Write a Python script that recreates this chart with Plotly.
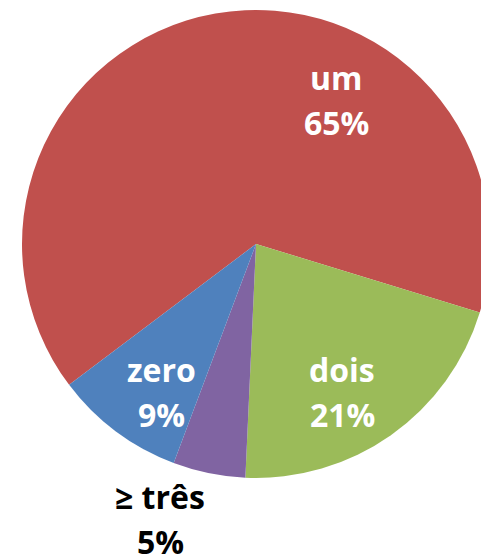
import plotly.graph_objects as go

# Data
labels = ["um", "dois", "≥ três", "zero"]
values = [65, 21, 5, 9]
colors = ["#C0504D", "#9BBB59", "#8064A2", "#4F81BD"]

# Layout (page pixels)
W, H = 490, 555
cx, cy, r = 256, 244, 234

# label block centres (pixels) and text colours
label_pos = [(336, 100), (342, 392), (160, 519), (161, 392)]
label_col = ["white", "white", "black", "white"]
line_gap = 45

fig = go.Figure(go.Pie(
    labels=labels,
    values=values,
    sort=False,
    direction="clockwise",
    rotation=233,
    marker=dict(colors=colors, line=dict(width=0)),
    textinfo="none",
    hoverinfo="label+percent",
    showlegend=False,
    domain=dict(x=[(cx - r) / W, (cx + r) / W],
                y=[(H - (cy + r)) / H, (H - (cy - r)) / H]),
))

total = sum(values)
for lab, val, (px, py), col in zip(labels, values, label_pos, label_col):
    lines = [lab, f"{round(100 * val / total)}%"]
    for i, txt in enumerate(lines):
        yy = py + (i - 0.5) * line_gap
        fig.add_annotation(
            x=px / W, y=1 - yy / H, xref="paper", yref="paper",
            xanchor="center", yanchor="middle", showarrow=False,
            text=f"<b>{txt}</b>",
            font=dict(family="Open Sans", size=32, color=col),
            align="center",
        )

fig.update_layout(
    width=W, height=H,
    margin=dict(l=0, r=0, t=0, b=0),
    paper_bgcolor="white",
    plot_bgcolor="white",
)

fig.write_html(
    "out.html",
    config={"displayModeBar": False},
    post_script="document.body.style.margin='0';document.body.style.overflow='hidden';",
)
